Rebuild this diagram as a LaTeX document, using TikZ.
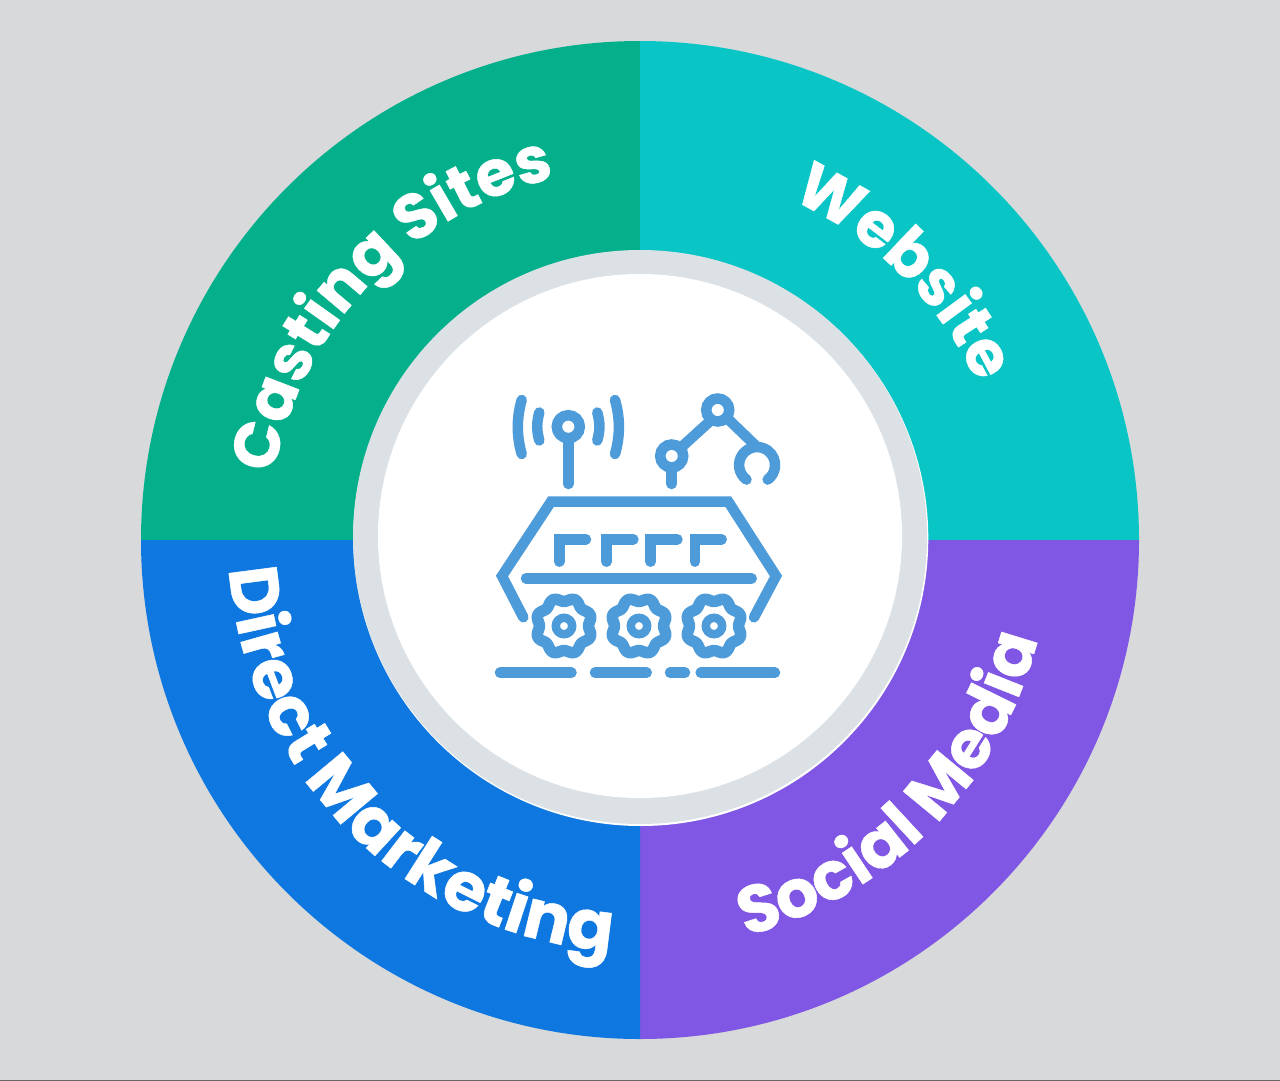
\documentclass[tikz,border=0pt]{standalone}
\usepackage{fontspec}
\setmainfont{Poppins}[BoldFeatures={FakeBold=0.7}]
\usetikzlibrary{decorations.text}
\definecolor{bgc}{HTML}{D7D9DB}
\definecolor{greenc}{HTML}{03B08B}
\definecolor{tealc}{HTML}{0AC5C6}
\definecolor{bluec}{HTML}{0F78E0}
\definecolor{purplec}{HTML}{8056E4}
\definecolor{ringc}{HTML}{DBE1E5}
\definecolor{iconc}{HTML}{4E9BD9}
\newcommand{\lblfmt}[1]{\color{white}\fontsize{#1}{#1}\selectfont\bfseries}
\tikzset{
  iconline/.style={draw=iconc,line width=10.5pt,line cap=round,line join=miter,fill=none},
  wheelline/.style={iconline,line width=11.5pt,line join=round},
  curved/.style 2 args={decorate,decoration={text along path,text align=center,text={|\lblfmt{#1}|#2}}},
}
\begin{document}
\begin{tikzpicture}[x=1pt,y=1pt]
\useasboundingbox (0,-1081) rectangle (1280,0);
\fill[bgc] (0,-1081) rectangle (1280,0);
\fill[black!60] (0,-1081) rectangle (1280,-1079.6);
\coordinate (c) at (640,-540);
\fill[greenc] (c) -- ++(180:499) arc[start angle=180,end angle=90,radius=499] -- cycle;
\fill[tealc] (c) -- ++(90:499) arc[start angle=90,end angle=0,radius=499] -- cycle;
\fill[purplec] (c) -- ++(0:499) arc[start angle=0,end angle=-90,radius=499] -- cycle;
\fill[bluec] (c) -- ++(-90:499) arc[start angle=-90,end angle=-180,radius=499] -- cycle;
\fill[white] (640.8,-538.5) circle[radius=287.5];
\fill[ringc] (640,-537) circle[radius=287];
\fill[white] (640,-536) circle[radius=262];
% labels
\path[curved={64}{Casting Sites}] (c) ++(-180:372) arc[start angle=-180,end angle=-267,radius=372];
\path[curved={63.5}{Website}] (c) ++(90:372) arc[start angle=90,end angle=1,radius=372];
\path[curved={68.5}{Direct Marketing}] (c) ++(180:412) arc[start angle=180,end angle=270,radius=412];
\path[curved={67}{Social Media}] (c) ++(270:410) arc[start angle=270,end angle=361,radius=410];
% antenna
\draw[iconline] (568.3,-426.7) circle[radius=11.5];
\draw[iconline] (568.3,-443) -- (568.3,-484);
\draw[iconline] (521.7,-400) .. controls (516.5,-418) and (516.5,-436) .. (521.7,-454);
\draw[iconline] (539.3,-412.5) .. controls (536.5,-423) and (536.5,-430) .. (539.3,-440.5);
\draw[iconline] (597.3,-412.5) .. controls (600.1,-423) and (600.1,-430) .. (597.3,-440.5);
\draw[iconline] (615,-400) .. controls (620.2,-418) and (620.2,-436) .. (615,-454);
% arm
\draw[iconline] (671.7,-456) circle[radius=11.5];
\draw[iconline] (717.7,-410) circle[radius=11.5];
\draw[iconline] (671.7,-468) -- (671.7,-484);
\draw[iconline] (680.5,-448) -- (708.5,-422.5);
\draw[iconline] (728,-419) -- (756,-446);
\draw[iconline] (746.5,-479.6) arc[start angle=234,end angle=-54,radius=18];
% body
\draw[iconline] (523.3,-617.3) -- (502,-576) -- (551,-501.7) -- (728.3,-501.7) -- (776,-576) -- (754,-617.3);
\draw[iconline] (526,-578.3) -- (751.7,-578.3);
\foreach \px in {559.3,606.7,650.7,695}{
  \draw[iconline] (\px,-561.7) -- (\px,-539.3) -- ++(26.7,0);
}
% wheels
\foreach \cx in {564,639,714}{
  \draw[wheelline] plot[smooth cycle,samples=73,domain=0:355] ({\cx+(26.5-2*cos(8*\x))*cos(\x)},{-626+(26.5-2*cos(8*\x))*sin(\x)});
  \draw[iconline,line width=8.5pt] (\cx,-626) circle[radius=8.2];
}
% ground
\draw[iconline] (500,-672.7) -- (571.5,-672.7);
\draw[iconline] (595,-672.7) -- (646.7,-672.7);
\draw[iconline] (670,-672.7) -- (685,-672.7);
\draw[iconline] (700.7,-672.7) -- (775,-672.7);
\end{tikzpicture}
\end{document}
